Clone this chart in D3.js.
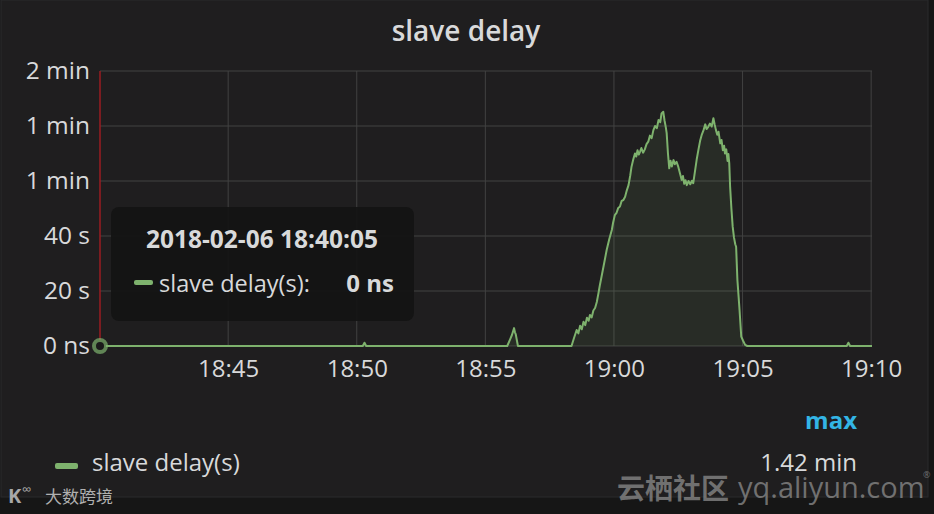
<!DOCTYPE html>
<html>
<head>
<meta charset="utf-8">
<script src="https://cdn.jsdelivr.net/npm/d3@7"></script>
<style>
  html, body { margin: 0; padding: 0; background: #161616; }
  svg { display: block; }
  text { font-family: "Open Sans", "Noto Sans", sans-serif; }
</style>
</head>
<body>
<svg id="chart" width="934" height="514"></svg>
<script>
// ---------------- data ----------------
const chartTitle = "slave delay";
const seriesName = "slave delay(s)";
const day = "2018-02-06";
const hoverTime = "18:40:05";
const hoverValueLabel = "0 ns";
const maxLabel = "1.42 min";
const domainStart = "18:40:01";
const domainEnd = "19:10:02";

const times = [
  "18:40:01","18:50:14","18:50:18","18:50:22",
  "18:55:51","18:55:58","18:56:02","18:56:07","18:56:09","18:56:11","18:56:16",
  "18:58:21","18:58:27","18:58:33","18:58:37","18:58:41","18:58:45","18:58:49","18:58:53","18:58:57",
  "18:59:01","18:59:04","18:59:08","18:59:12","18:59:16","18:59:20","18:59:24","18:59:27","18:59:31",
  "18:59:37","18:59:43","18:59:49","18:59:55","18:59:58",
  "19:00:02","19:00:06","19:00:10","19:00:14","19:00:18","19:00:22","19:00:26","19:00:30","19:00:34",
  "19:00:38","19:00:41","19:00:45","19:00:49","19:00:52","19:00:55","19:00:58",
  "19:01:01","19:01:04","19:01:08","19:01:12","19:01:16","19:01:20","19:01:24","19:01:28","19:01:32",
  "19:01:36","19:01:40","19:01:44","19:01:48","19:01:51","19:01:55","19:01:58",
  "19:02:01","19:02:03","19:02:06","19:02:09","19:02:12","19:02:15","19:02:19","19:02:22","19:02:26",
  "19:02:30","19:02:34","19:02:38","19:02:41","19:02:44","19:02:47","19:02:50","19:02:54","19:02:58",
  "19:03:02","19:03:05","19:03:09","19:03:13","19:03:17","19:03:21","19:03:25","19:03:29","19:03:33",
  "19:03:36","19:03:40","19:03:44","19:03:48","19:03:52","19:03:55","19:03:58",
  "19:04:01","19:04:04","19:04:08","19:04:11","19:04:14","19:04:17","19:04:19","19:04:22","19:04:25",
  "19:04:27","19:04:29","19:04:31","19:04:34","19:04:37","19:04:40","19:04:43","19:04:45","19:04:48",
  "19:04:51","19:04:53","19:04:57","19:05:01","19:05:06","19:05:11",
  "19:09:03","19:09:07","19:09:11","19:10:02"
];
const delaySeconds = [
  0,0,1.2,0,
  0,2.5,4.0,6.5,5.0,4.2,0,
  0,3.0,5.8,4.6,7.4,6.1,8.8,7.6,10.3,
  9.2,11.3,10.4,12.9,13.8,16.0,19.3,22.0,25.2,
  30.0,34.9,38.8,42.2,44.8,
  47.6,48.4,50.2,50.7,52.8,53.1,54.3,56.6,58.5,
  62.0,65.2,67.8,70.0,68.9,71.2,69.6,
  70.7,72.0,70.3,71.5,73.4,74.3,76.5,75.6,78.5,
  80.0,79.2,82.2,81.4,84.6,85.2,82.0,
  79.5,77.4,70.0,64.6,67.4,65.3,67.6,66.1,67.0,
  65.2,62.8,60.4,61.8,59.0,60.3,58.5,60.0,58.8,
  60.1,59.2,63.5,67.8,71.3,74.6,76.9,78.5,80.6,
  78.9,79.7,80.9,79.8,82.8,80.5,78.5,
  76.8,77.9,73.7,74.9,71.2,72.8,70.0,71.5,67.3,
  69.8,66.4,57.9,50.0,43.4,39.5,37.0,36.1,24.0,
  17.5,13.1,3.4,2.0,0.4,0,
  0,1.2,0,0
];
const yTickValues = [0, 20, 40, 60, 80, 100];
const yTickLabels = ["0 ns", "20 s", "40 s", "1 min", "1 min", "2 min"];
const xTickTimes = ["18:45", "18:50", "18:55", "19:00", "19:05", "19:10"];

// ---------------- drawing ----------------
const parse = d3.timeParse("%Y-%m-%d %H:%M:%S");
const parseHM = d3.timeParse("%Y-%m-%d %H:%M");
const data = times.map((t, i) => ({ t: parse(day + " " + t), v: delaySeconds[i] }));

const svg = d3.select("#chart");
const W = 934, H = 514;
const plot = { left: 100, right: 872, top: 71, bottom: 346 };

const colors = {
  panel: "#1f1e1f",
  grid: "#424242",
  text: "#d8d9da",
  line: "#7eb26d",
  cross: "#9b1c22",
  tooltip: "#141414",
  max: "#33b5e5"
};

// panel background
svg.append("rect").attr("x", 0).attr("y", 0).attr("width", W).attr("height", H).attr("fill", "#161616");
svg.append("rect").attr("x", 1).attr("y", 0).attr("width", 927).attr("height", 497)
  .attr("fill", colors.panel).attr("stroke", "#2a2a2c").attr("stroke-width", 1);

const x = d3.scaleTime()
  .domain([parse(day + " " + domainStart), parse(day + " " + domainEnd)])
  .range([plot.left, plot.right]);
const y = d3.scaleLinear().domain([0, 100]).range([plot.bottom, plot.top]);

const xTicks = xTickTimes.map(t => parseHM(day + " " + t));

// grid
const gridG = svg.append("g");
gridG.selectAll("line.h").data(yTickValues).join("line")
  .attr("x1", plot.left).attr("x2", plot.right)
  .attr("y1", d => y(d)).attr("y2", d => y(d))
  .attr("stroke", colors.grid).attr("stroke-width", 1);
gridG.selectAll("line.v").data(xTicks).join("line")
  .attr("x1", d => x(d)).attr("x2", d => x(d))
  .attr("y1", plot.top).attr("y2", plot.bottom)
  .attr("stroke", colors.grid).attr("stroke-width", 1);

// axes
const yAxis = d3.axisLeft(y).tickValues(yTickValues)
  .tickFormat((d, i) => yTickLabels[i]).tickSize(0).tickPadding(10);
const yg = svg.append("g").attr("transform", `translate(${plot.left},0)`).call(yAxis);
yg.select(".domain").remove();
yg.selectAll("text").attr("fill", colors.text).style("font-size", "24.5px")
  .style("font-family", "'Open Sans', sans-serif");

const xAxis = d3.axisBottom(x).tickValues(xTicks)
  .tickFormat(d3.timeFormat("%H:%M")).tickSize(0).tickPadding(14);
const xg = svg.append("g").attr("transform", `translate(0,${plot.bottom})`).call(xAxis);
xg.select(".domain").remove();
xg.selectAll("text").attr("fill", colors.text).style("font-size", "24px")
  .style("font-family", "'Open Sans', sans-serif");

// area + line
const area = d3.area().x(d => x(d.t)).y0(y(0)).y1(d => y(d.v));
const line = d3.line().x(d => x(d.t)).y(d => y(d.v));
svg.append("path").datum(data).attr("d", area)
  .attr("fill", colors.line).attr("fill-opacity", 0.1);
svg.append("path").datum(data).attr("d", line)
  .attr("fill", "none").attr("stroke", colors.line).attr("stroke-width", 2)
  .attr("stroke-linejoin", "round");

// crosshair
svg.append("line")
  .attr("x1", x.range()[0]).attr("x2", x.range()[0])
  .attr("y1", plot.top).attr("y2", plot.bottom)
  .attr("stroke", colors.cross).attr("stroke-width", 1.5);
svg.append("circle")
  .attr("cx", x(data[0].t)).attr("cy", y(data[0].v)).attr("r", 6)
  .attr("fill", "#1a1a1a").attr("stroke", colors.line).attr("stroke-opacity", 0.7)
  .attr("stroke-width", 4);

// title
svg.append("text").attr("x", 466).attr("y", 41).attr("text-anchor", "middle")
  .attr("fill", colors.text).style("font-size", "28px").style("font-weight", 600)
  .text(chartTitle);

// tooltip
const tip = svg.append("g");
tip.append("rect").attr("x", 111).attr("y", 207).attr("width", 303).attr("height", 114)
  .attr("rx", 8).attr("fill", colors.tooltip).attr("fill-opacity", 0.92);
tip.append("text").attr("x", 262).attr("y", 248).attr("text-anchor", "middle")
  .attr("fill", colors.text).style("font-size", "24.5px").style("font-weight", 700)
  .text(day + " " + hoverTime);
tip.append("rect").attr("x", 134).attr("y", 280).attr("width", 19).attr("height", 5)
  .attr("rx", 2).attr("fill", colors.line);
tip.append("text").attr("x", 159).attr("y", 292)
  .attr("fill", colors.text).style("font-size", "23.5px")
  .text(seriesName + ":");
tip.append("text").attr("x", 394).attr("y", 292).attr("text-anchor", "end")
  .attr("fill", colors.text).style("font-size", "24px").style("font-weight", 700)
  .text(hoverValueLabel);

// legend
svg.append("text").attr("x", 857).attr("y", 429).attr("text-anchor", "end")
  .attr("fill", colors.max).style("font-size", "24px").style("font-weight", 700)
  .text("max");
svg.append("rect").attr("x", 55).attr("y", 463).attr("width", 23).attr("height", 6)
  .attr("rx", 2).attr("fill", colors.line);
svg.append("text").attr("x", 92).attr("y", 471)
  .attr("fill", colors.text).style("font-size", "24px")
  .text(seriesName);
svg.append("text").attr("x", 857).attr("y", 471).attr("text-anchor", "end")
  .attr("fill", colors.text).style("font-size", "24px")
  .text(maxLabel);

// watermarks
svg.append("text").attr("x", 617).attr("y", 499)
  .attr("fill", "#8c8c8c").attr("fill-opacity", 0.75)
  .style("font-size", "28px").style("font-weight", 700)
  .style("font-family", "'Noto Sans CJK SC', sans-serif")
  .text("云栖社区");
svg.append("text").attr("x", 738).attr("y", 498)
  .attr("fill", "#8c8c8c").attr("fill-opacity", 0.75)
  .style("font-size", "29px")
  .text("yq.aliyun.com");
svg.append("text").attr("x", 923).attr("y", 478)
  .attr("fill", "#8c8c8c").attr("fill-opacity", 0.75)
  .style("font-size", "9px")
  .text("®");
svg.append("text").attr("x", 8).attr("y", 503)
  .attr("fill", "#a8a8a8").style("font-size", "20px").style("font-weight", 700)
  .text("K");
svg.append("text").attr("x", 22).attr("y", 494)
  .attr("fill", "#a8a8a8").style("font-size", "13px")
  .text("∞");
svg.append("text").attr("x", 45).attr("y", 503)
  .attr("fill", "#b0b0b0")
  .style("font-size", "17px")
  .style("font-family", "'Noto Sans CJK SC', sans-serif")
  .text("大数跨境");
</script>
</body>
</html>
